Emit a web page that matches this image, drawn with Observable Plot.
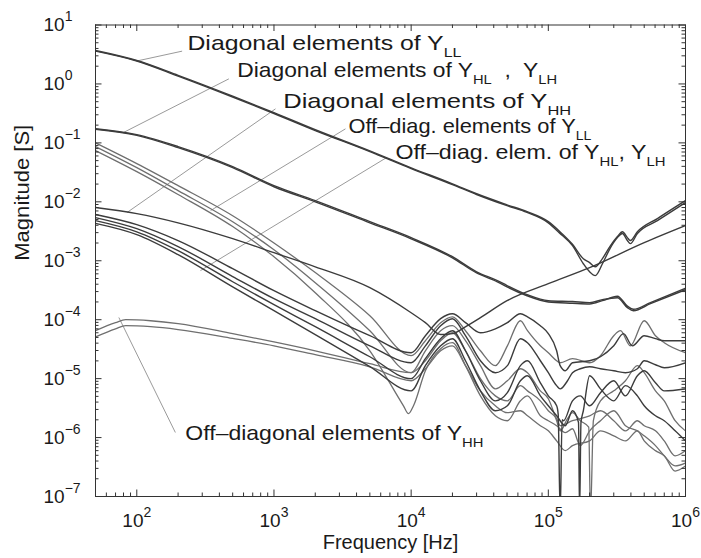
<!DOCTYPE html>
<html><head><meta charset="utf-8">
<script src="https://cdn.jsdelivr.net/npm/d3@7"></script>
<script src="https://cdn.jsdelivr.net/npm/@observablehq/plot@0.6"></script>
<style>
body{margin:0;background:#fff;}
#chart{width:701px;height:558px;}
</style></head><body><div id="chart"></div>
<script>
// ---- data: [frequency Hz, magnitude S] ----
const diagLL_a = [[50,3.6],[100,2.45],[200,1.36],[500,0.60],[1000,0.315],[2000,0.162],[5000,0.071],[1e4,0.0366],[2e4,0.0196],[3e4,0.0133],[5e4,0.0086],[7e4,0.0066],[1e5,0.0044],[1.2e5,0.0030],[1.5e5,0.0018],[1.8e5,8.9e-4],[2e5,6.5e-4],[2.2e5,5.6e-4],[2.48e5,8.9e-4],[2.84e5,1.67e-3],[3.19e5,2.47e-3],[3.47e5,2.9e-3],[3.77e5,2.2e-3],[3.96e5,1.95e-3],[4.46e5,2.9e-3],[6.24e5,4.8e-3],[1e6,9.7e-3]];
const diagLL_b = [[50,3.7],[100,2.5],[200,1.4],[500,0.62],[1000,0.325],[2000,0.167],[5000,0.073],[1e4,0.0378],[2e4,0.0202],[3e4,0.0137],[5e4,0.0089],[7e4,0.0068],[1e5,0.0046],[1.2e5,0.0032],[1.5e5,0.0019],[1.8e5,1.08e-3],[2e5,9.3e-4],[2.2e5,7.9e-4],[2.48e5,1.09e-3],[2.84e5,1.8e-3],[3.19e5,2.57e-3],[3.47e5,3.1e-3],[3.77e5,2.47e-3],[3.96e5,2.2e-3],[4.46e5,3.1e-3],[6.24e5,5.2e-3],[1e6,1.05e-2]];
const diagHL_a = [[50,0.174],[100,0.138],[200,0.0866],[500,0.0396],[1000,0.0188],[2000,0.0105],[5000,0.0046],[1e4,0.00247],[2e4,0.00117],[3e4,6.5e-4],[4.25e4,4.6e-4],[5e4,3.8e-4],[7e4,2.66e-4],[1e5,2.1e-4],[1.5e5,2.03e-4],[2e5,1.95e-4],[2.48e5,2.19e-4],[3.19e5,2.36e-4],[3.77e5,1.6e-4],[4.17e5,1.42e-4],[5.55e5,1.87e-4],[1e6,3.23e-4]];
const diagHL_b = [[50,0.17],[100,0.134],[200,0.083],[500,0.038],[1000,0.018],[2000,0.010],[5000,0.0044],[1e4,0.00236],[2e4,0.00112],[3e4,6.2e-4],[4.25e4,4.4e-4],[5e4,3.6e-4],[7e4,2.55e-4],[1e5,2.0e-4],[1.5e5,1.9e-4],[2e5,1.85e-4],[2.48e5,2.1e-4],[3.19e5,2.5e-4],[3.77e5,1.7e-4],[4.17e5,1.5e-4],[5.55e5,1.95e-4],[1e6,3.4e-4]];
const diagHH = [[50,8.0e-3],[100,6.3e-3],[200,4.4e-3],[500,2.37e-3],[1000,1.37e-3],[2000,7.9e-4],[5000,3.49e-4],[1e4,1.31e-4],[1.27e4,8.9e-5],[1.64e4,5.6e-5],[2e4,5.8e-5],[2.5e4,7.6e-5],[3.2e4,1.08e-4],[5e4,2.1e-4],[1e5,4.08e-4],[2e5,7.63e-4],[5e5,2.03e-3],[1e6,3.95e-3]];
const offLL_a = [[50,0.10],[100,0.0445],[200,0.0188],[500,5.8e-3],[1000,2.0e-3],[2000,6.3e-4],[5000,1.17e-4],[1e4,2.45e-5],[1.27e4,4.4e-5],[1.64e4,8.9e-5],[2e4,1.12e-4],[2.49e4,6.5e-5],[3.2e4,2.97e-5],[4.11e4,1.66e-5],[5.03e4,3.6e-5],[6.26e4,9.6e-5],[7.05e4,6.5e-5],[8.75e4,3.6e-5],[1e5,2.75e-5],[1.15e5,2.01e-5],[1.22e5,1.86e-5],[1.5e5,2.18e-5],[2e5,1.86e-5],[2.4e5,2.45e-5],[3e5,5.35e-5],[3.36e5,6.5e-5],[3.96e5,3.6e-5],[5e5,9.6e-5],[6.04e5,5.35e-5],[7e5,4.07e-5],[1e6,2.75e-5]];
const offLL_b = [[50,0.0865],[100,0.038],[200,0.0155],[500,4.6e-3],[1000,1.54e-3],[2000,4.25e-4],[5000,6.5e-5],[1e4,1.26e-5],[1.27e4,2.97e-5],[1.64e4,6.5e-5],[2e4,7.9e-5],[2.49e4,4.4e-5],[3.2e4,1.66e-5],[4.11e4,6.7e-6],[5.03e4,9.2e-6],[6.26e4,1.47e-5],[7.05e4,1.26e-5],[8.75e4,6.2e-6],[1e5,4.56e-6],[1.15e5,1.93e-6],[1.22e5,1.3e-6],[1.38e5,2.09e-6],[1.5e5,2.64e-6],[1.71e5,1.93e-6],[1.97e5,1.5e-6],[2.03e5,5e-8],[2.13e5,1.93e-6],[2.4e5,4.2e-6],[3e5,6.2e-6],[3.65e5,9.2e-6],[4.46e5,1.66e-5],[5e5,1.26e-5],[6.04e5,6.2e-6],[7e5,4.2e-6],[8.4e5,1.93e-6],[1e6,1.3e-6]];
const offLL_c = [[50,0.074],[100,0.0325],[200,0.0133],[500,3.8e-3],[1000,1.17e-3],[2000,2.87e-4],[5000,2.97e-5],[8790,3.46e-6],[9560,2.54e-6],[1.04e4,3.46e-6],[1.27e4,1.36e-5],[1.64e4,3.22e-5],[2e4,4.07e-5],[2.49e4,1.66e-5],[3.2e4,5.1e-6],[4.11e4,2.34e-6],[5.03e4,1.93e-6],[6.26e4,4.2e-6],[7.05e4,5.1e-6],[8.75e4,2.34e-6],[1e5,1.93e-6],[1.15e5,1.59e-6],[1.33e5,1.21e-6],[1.5e5,1.41e-6],[1.71e5,7.3e-7],[2e5,1.3e-6],[2.4e5,1.93e-6],[3e5,2.85e-6],[3.65e5,1.59e-6],[4.46e5,1.3e-6],[5e5,1.07e-6],[6.04e5,7.3e-7],[7e5,4.9e-7],[8.4e5,3.3e-7],[1e6,3.7e-7]];
const offHL_a = [[50,6.1e-3],[100,4.1e-3],[200,2.2e-3],[500,7.35e-4],[1000,3.1e-4],[2000,1.42e-4],[5000,5.35e-5],[1e4,2.75e-5],[1.27e4,5.35e-5],[1.64e4,1.04e-4],[2e4,1.26e-4],[2.49e4,8.9e-5],[3.2e4,6.0e-5],[4.11e4,7.0e-5],[5.03e4,8.9e-5],[6.26e4,1.26e-4],[7.05e4,1.12e-4],[8.75e4,7.9e-5],[1e5,5.8e-5],[1.15e5,2.97e-5],[1.22e5,1.66e-5],[1.33e5,1.36e-5],[1.5e5,1.86e-5],[2e5,2.01e-5],[2.4e5,2.35e-5],[3e5,3.6e-5],[3.53e5,5.8e-5],[4.1e5,3.6e-5],[5e5,5.35e-5],[6.04e5,4.76e-5],[7e5,4.4e-5],[1e6,4.4e-5]];
const offHL_b = [[50,5.4e-3],[100,3.5e-3],[200,1.74e-3],[500,5.4e-4],[1000,2.27e-4],[2000,1.04e-4],[5000,3.6e-5],[1e4,1.86e-5],[1.27e4,3.6e-5],[1.64e4,7.9e-5],[2e4,1.04e-4],[2.49e4,5.35e-5],[3.2e4,2.01e-5],[4.11e4,1.26e-5],[5.03e4,1.66e-5],[6.26e4,4.76e-5],[7.05e4,4.07e-5],[8.75e4,2.01e-5],[1e5,1.26e-5],[1.15e5,7.6e-6],[1.22e5,6.7e-6],[1.38e5,9.2e-6],[1.5e5,1.26e-5],[1.71e5,1.47e-5],[2e5,1.59e-5],[2.4e5,1.47e-5],[3e5,1.36e-5],[3.65e5,1.26e-5],[4.46e5,1.47e-5],[5e5,2.01e-5],[6.04e5,1.72e-5],[7e5,1.53e-5],[1e6,1.86e-5]];
const offHL_c = [[50,4.8e-3],[100,3.1e-3],[200,1.48e-3],[500,4.4e-4],[1000,1.8e-4],[2000,7.6e-5],[5000,2.35e-5],[1e4,1.0e-5],[1.27e4,2.18e-5],[1.64e4,4.76e-5],[2e4,6.5e-5],[2.49e4,2.97e-5],[3.2e4,9.2e-6],[4.11e4,4.2e-6],[5.03e4,5.77e-6],[6.26e4,1.66e-5],[7.05e4,2.01e-5],[8.75e4,8.5e-6],[1e5,5.1e-6],[1.15e5,3.46e-6],[1.18e5,2.5e-6],[1.22e5,5e-8],[1.26e5,2.0e-6],[1.29e5,1.93e-6],[1.5e5,4.2e-6],[1.71e5,5.1e-6],[2e5,3.46e-6],[2.4e5,5.77e-6],[3e5,9.2e-6],[3.65e5,5.1e-6],[4.46e5,1.12e-5],[5e5,1.36e-5],[6.04e5,8.5e-6],[7e5,6.2e-6],[1e6,6.7e-6]];
const offHL_d = [[50,4.3e-3],[100,2.77e-3],[200,1.27e-3],[500,3.6e-4],[1000,1.42e-4],[2000,5.6e-5],[5000,1.6e-5],[1e4,6.2e-6],[1.27e4,1.66e-5],[1.64e4,3.6e-5],[2e4,4.76e-5],[2.49e4,2.01e-5],[3.2e4,6.2e-6],[4.11e4,2.85e-6],[5.03e4,3.46e-6],[6.26e4,9.2e-6],[7.05e4,1.12e-5],[8.75e4,5.1e-6],[1e5,3.46e-6],[1.15e5,2.34e-6],[1.33e5,1.59e-6],[1.5e5,2.85e-6],[1.66e5,1.8e-6],[1.69e5,5e-8],[1.73e5,1.8e-6],[1.8e5,2.85e-6],[2e5,1.12e-5],[2.4e5,6.7e-6],[3e5,4.2e-6],[3.65e5,7.6e-6],[4.46e5,5.1e-6],[5e5,3.46e-6],[6.04e5,2.34e-6],[7e5,1.93e-6],[8.4e5,1.3e-6],[1e6,8.8e-7]];
const offHH_a = [[50,6.5e-5],[70,8.9e-5],[83,1.0e-4],[126,9.6e-5],[200,8.6e-5],[500,5.8e-5],[1000,4.2e-5],[2000,2.97e-5],[5000,1.79e-5],[1e4,1.26e-5],[1.27e4,2.01e-5],[1.64e4,4.4e-5],[2e4,6.0e-5],[2.49e4,2.97e-5],[3.2e4,1.0e-5],[4.11e4,5.1e-6],[5.03e4,4.2e-6],[6.26e4,7.6e-6],[7.05e4,6.2e-6],[8.75e4,4.2e-6],[1e5,2.85e-6],[1.15e5,2.09e-6],[1.22e5,1.59e-6],[1.5e5,1.93e-6],[2e5,2.34e-6],[2.4e5,2.85e-6],[3e5,1.93e-6],[3.65e5,1.3e-6],[4.46e5,1.93e-6],[5e5,1.59e-6],[6.04e5,1.3e-6],[7e5,8.8e-7],[8.4e5,4.9e-7],[1e6,6.0e-7]];
const offHH_b = [[50,5.1e-5],[70,7.0e-5],[83,7.9e-5],[126,7.6e-5],[200,6.8e-5],[500,4.8e-5],[1000,3.6e-5],[2000,2.55e-5],[5000,1.59e-5],[1e4,9.2e-6],[1.27e4,1.47e-5],[1.64e4,2.97e-5],[2e4,3.6e-5],[2.49e4,1.66e-5],[3.2e4,6.2e-6],[4.11e4,3.46e-6],[5.03e4,2.64e-6],[6.26e4,2.85e-6],[7.05e4,2.34e-6],[8.75e4,1.59e-6],[1e5,1.3e-6],[1.15e5,8.8e-7],[1.33e5,6.0e-7],[1.5e5,7.3e-7],[2e5,8.8e-7],[2.4e5,1.3e-6],[3e5,1.07e-6],[3.65e5,8.8e-7],[4.46e5,1.3e-6],[5e5,8.8e-7],[6.04e5,6.0e-7],[7e5,4.9e-7],[8.4e5,2.7e-7],[1e6,3.3e-7]];

const darkSeries = {diagLL_a, diagLL_b, diagHL_a, diagHL_b, diagHH, offHL_a, offHL_b, offHL_c, offHL_d};
const graySeries = {offLL_a, offLL_b, offLL_c, offHH_a, offHH_b};

// annotations: text, anchor point, leader start and end
const labelTexts = ["Diagonal elements of Y_{LL}", "Diagonal elements of Y_{HL}  ,  Y_{LH}", "Diagonal elements of Y_{HH}", "Off–diag. elements of Y_{LL}", "Off–diag. elem. of Y_{HL}, Y_{LH}", "Off–diagonal elements of Y_{HH}"];
const labelAt = [[234,4.85],[539,1.69],[1167,0.50],[3490,0.189],[7690,0.0684],[226,1.16e-6]];
const leaderFrom = [[214,3.6],[469,1.22],[1026,0.378],[3320,0.173],[6680,0.057],[191,1.22e-6]];
const leaderTo = [[100,2.45],[80,0.15],[85,6.6e-3],[345,7.1e-3],[291,6.8e-4],[74,1.09e-4]];

const xMajor = [1e2,1e3,1e4,1e5,1e6];
const yMajor = [1e-7,1e-6,1e-5,1e-4,1e-3,1e-2,1e-1,1e0,1e1];
const xMinor = [50,60,70,80,90].concat(...[2,3,4,5].map(k => [2,3,4,5,6,7,8,9].map(m => m*10**k)));
const yMinor = [].concat(...[-7,-6,-5,-4,-3,-2,-1,0].map(k => [2,3,4,5,6,7,8,9].map(m => m*10**k)));

// ---- layout constants (not data) ----
const W = 701, H = 558, ML = 95, MR = 16, MT = 24.5, MB = 62;
const FW = W - ML - MR, FH = H - MT - MB;
const FONT = "Liberation Sans, Arial, Helvetica, sans-serif";
const labelWidths = [274, 320, 288, 243, 270, 298];

// ---- build ----
const toRows = obj => Object.entries(obj).flatMap(([id, pts]) => pts.map(([f, m]) => ({id, f, m})));
const darkRows = toRows(darkSeries);
const grayRows = toRows(graySeries);
const labels = labelTexts.map((t, i) => ({t, f: labelAt[i][0], m: labelAt[i][1]}));
const leaders = leaderFrom.map((a, i) => ({x1: a[0], y1: a[1], x2: leaderTo[i][0], y2: leaderTo[i][1]}));
const pow = d => { const e = Math.round(Math.log10(d)); return "10^{" + (e < 0 ? "−" + (-e) : e) + "}"; };

const chart = Plot.plot({
  width: W, height: H,
  marginLeft: ML, marginRight: MR, marginTop: MT, marginBottom: MB,
  style: {fontFamily: FONT, color: "#1a1a1a", background: "#fff"},
  x: {type: "log", domain: [50, 1e6]},
  y: {type: "log", domain: [1e-7, 10]},
  marks: [
    Plot.link(leaders, {x1: "x1", y1: "y1", x2: "x2", y2: "y2", stroke: "#9a9a9a", strokeWidth: 1}),
    Plot.line(grayRows, {x: "f", y: "m", z: "id", stroke: "#6f6f6f", strokeWidth: 1.3, curve: "monotone-x", clip: true}),
    Plot.line(darkRows, {x: "f", y: "m", z: "id", stroke: "#3c3c3c", strokeWidth: 1.4, curve: "monotone-x", clip: true}),
    Plot.text(labels, {x: "f", y: "m", text: "t", textAnchor: "start", fontSize: 21, fill: "#1a1a1a"}),
    // inward ticks on all four sides
    Plot.tickX(xMajor, {x: d => d, insetTop: FH - 6.5, stroke: "#333"}),
    Plot.tickX(xMajor, {x: d => d, insetBottom: FH - 6.5, stroke: "#333"}),
    Plot.tickX(xMinor, {x: d => d, insetTop: FH - 3.5, stroke: "#333"}),
    Plot.tickX(xMinor, {x: d => d, insetBottom: FH - 3.5, stroke: "#333"}),
    Plot.tickY(yMajor, {y: d => d, insetRight: FW - 6.5, stroke: "#333"}),
    Plot.tickY(yMajor, {y: d => d, insetLeft: FW - 6.5, stroke: "#333"}),
    Plot.tickY(yMinor, {y: d => d, insetRight: FW - 3.5, stroke: "#333"}),
    Plot.tickY(yMinor, {y: d => d, insetLeft: FW - 3.5, stroke: "#333"}),
    Plot.frame({stroke: "#333", strokeWidth: 1}),
    Plot.axisX({ticks: xMajor, tickSize: 0, tickPadding: 17, tickFormat: pow, fontSize: 19, label: null}),
    Plot.axisY({ticks: yMajor, tickSize: 0, tickPadding: 0, textAnchor: "start", dx: -52, tickFormat: pow, fontSize: 19, label: null}),
    Plot.text(["Frequency [Hz]"], {frameAnchor: "bottom", dy: 52, text: d => d, fontSize: 20, fill: "#1a1a1a"}),
    Plot.text(["Magnitude [S]"], {frameAnchor: "left", dx: -73, rotate: -90, text: d => d, fontSize: 20, fill: "#1a1a1a"})
  ]
});

// turn _{..} and ^{..} into sub/superscript tspans
function rich(el, o) {
  const str = el.textContent;
  const re = /([\^_])\{([^}]*)\}/g;
  while (el.firstChild) el.removeChild(el.firstChild);
  const NS = "http://www.w3.org/2000/svg";
  const add = (txt, size, dy) => {
    const t = document.createElementNS(NS, "tspan");
    if (size) t.setAttribute("font-size", size);
    if (dy) t.setAttribute("dy", dy);
    t.textContent = txt; el.appendChild(t);
  };
  let last = 0, shift = 0, m;
  while ((m = re.exec(str))) {
    if (m.index > last) { add(str.slice(last, m.index), null, -shift || null); shift = 0; }
    const d = m[1] === "^" ? -o.sup : o.sub;
    add(m[2], o.small, d - shift); shift = d;
    last = re.lastIndex;
  }
  if (last < str.length) add(str.slice(last), null, -shift || null);
}
chart.querySelectorAll("text").forEach(t => {
  const s = t.textContent;
  if (s === "Magnitude [S]") { t.setAttribute("textLength", 136); t.setAttribute("lengthAdjust", "spacingAndGlyphs"); return; }
  if (!/[\^_]\{/.test(s)) return;
  const i = labelTexts.indexOf(s);
  if (i >= 0) {
    rich(t, {sub: 7, sup: 10, small: 13.5});
    t.setAttribute("textLength", labelWidths[i]); t.setAttribute("lengthAdjust", "spacingAndGlyphs");
  } else {
    rich(t, {sub: 7, sup: 10, small: 14});
  }
});
document.getElementById("chart").appendChild(chart);
</script></body></html>
